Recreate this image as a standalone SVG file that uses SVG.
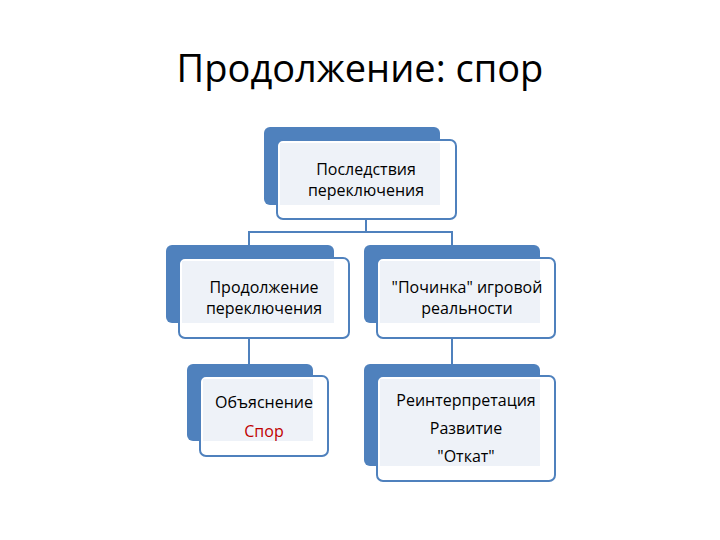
<svg xmlns="http://www.w3.org/2000/svg" width="720" height="540" viewBox="0 0 720 540">
<style>
.b{fill:#4f81bd}
.f{fill:#fff;stroke:#4f81bd;stroke-width:2}
.i{fill:#eef2f8}
.t{font-family:"Open Sans","DejaVu Sans",sans-serif;font-size:16px;fill:#000;text-anchor:middle}
.c{stroke:#4f81bd;stroke-width:2;fill:none}
</style>
<rect width="720" height="540" fill="#fff"/>
<text x="360" y="82" font-family="Open Sans, DejaVu Sans, sans-serif" font-size="38" text-anchor="middle">Продолжение: спор</text>
<g id="connectors">
<path class="c" d="M366 219V232M249 245V232H452V245M249 338V364M452 338V364"/>
</g>
<g id="n1">
<rect class="b" x="264" y="127" width="176" height="78" rx="6"/>
<rect class="f" x="277" y="140" width="179" height="79" rx="6"/>
<rect class="i" x="280" y="143" width="160" height="62"/>
<text class="t" x="366" y="175">Последствия</text>
<text class="t" x="366" y="196">переключения</text>
</g>
<g id="n2">
<rect class="b" x="166" y="245" width="168" height="78" rx="6"/>
<rect class="f" x="179" y="258" width="170" height="80" rx="6"/>
<rect class="i" x="182" y="261" width="152" height="62"/>
<text class="t" x="264" y="293">Продолжение</text>
<text class="t" x="264" y="314">переключения</text>
</g>
<g id="n3">
<rect class="b" x="364" y="245" width="176" height="78" rx="6"/>
<rect class="f" x="377" y="258" width="178" height="80" rx="6"/>
<rect class="i" x="380" y="261" width="160" height="62"/>
<text class="t" x="467" y="293">"Починка" игровой</text>
<text class="t" x="467" y="314">реальности</text>
</g>
<g id="n4">
<rect class="b" x="187" y="364" width="126" height="77" rx="6"/>
<rect class="f" x="200" y="376" width="128" height="80" rx="6"/>
<rect class="i" x="203" y="379" width="110" height="62"/>
<text class="t" x="264" y="408">Объяснение</text>
<text class="t" x="264" y="437" style="fill:#c00000">Спор</text>
</g>
<g id="n5">
<rect class="b" x="364" y="364" width="176" height="102" rx="6"/>
<rect class="f" x="377" y="376" width="178" height="105" rx="6"/>
<rect class="i" x="380" y="379" width="160" height="87"/>
<text class="t" x="466" y="406">Реинтерпретация</text>
<text class="t" x="466" y="434">Развитие</text>
<text class="t" x="466" y="462">"Откат"</text>
</g>
</svg>
